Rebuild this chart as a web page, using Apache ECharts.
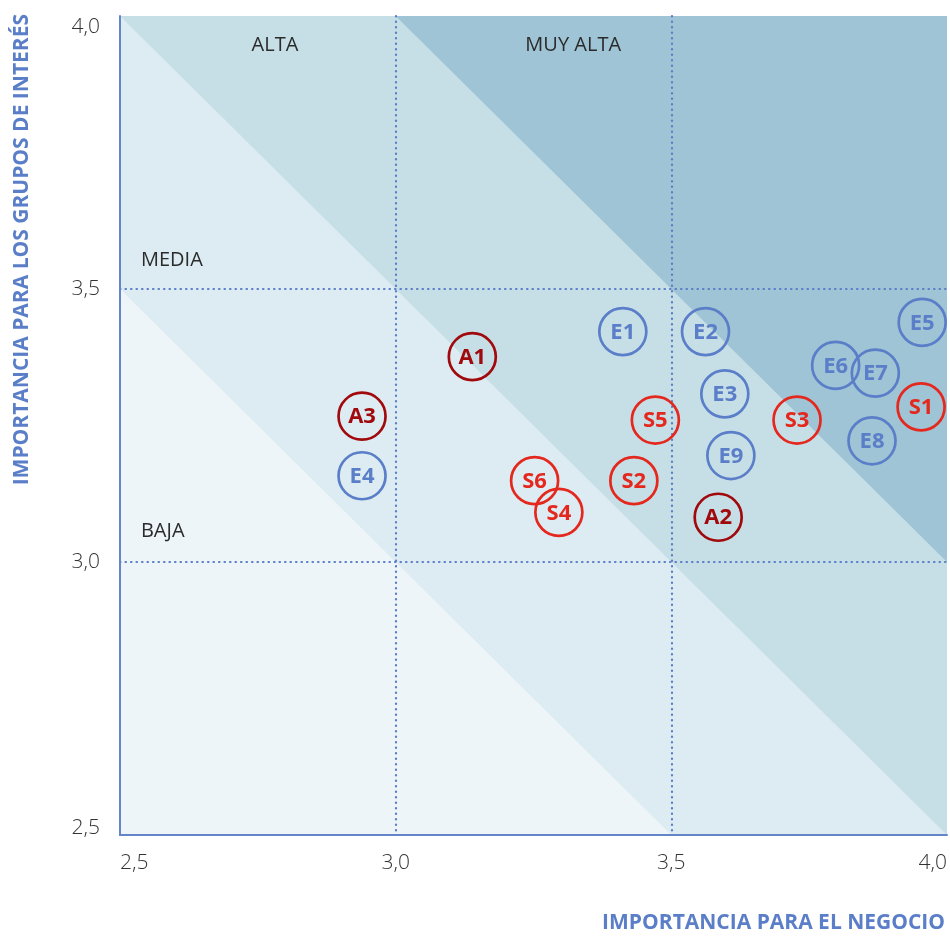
<!DOCTYPE html>
<html>
<head>
<meta charset="utf-8">
<script src="https://cdn.jsdelivr.net/npm/echarts@6/dist/echarts.min.js"></script>
<style>
  html, body { margin: 0; padding: 0; background: #ffffff; }
  #chart { width: 950px; height: 939px; }
</style>
</head>
<body>
<div id="chart"></div>
<script>
// Axis range and tick step (both axes share the same scale)
const axisMin = 2.5;
const axisMax = 4.0;
const axisStep = 0.5;

// Priority bands: thresholds on business + stakeholder importance
const bandThresholds = [6.0, 6.5, 7.0];
const bandColors = ['#ddecf2', '#c6dfe7', '#9ec4d5'];
const baseColor = '#edf5f8';

// Band captions, their anchor positions and horizontal alignment
const bandNames = ['ALTA', 'MUY ALTA', 'MEDIA', 'BAJA'];
const bandNameX = [2.781, 3.322, 2.538, 2.538];
const bandNameY = [3.947, 3.947, 3.553, 3.0555];
const bandNameAlign = ['center', 'center', 'left', 'left'];

// Group E
const eLabels = ['E1', 'E2', 'E3', 'E4', 'E5', 'E6', 'E7', 'E8', 'E9'];
const eBusiness = [3.412, 3.562, 3.597, 2.939, 3.955, 3.798, 3.870, 3.864, 3.608];
const eStakeholders = [3.422, 3.422, 3.308, 3.158, 3.439, 3.360, 3.346, 3.222, 3.195];

// Group S
const sLabels = ['S1', 'S2', 'S3', 'S4', 'S5', 'S6'];
const sBusiness = [3.953, 3.432, 3.728, 3.296, 3.471, 3.252];
const sStakeholders = [3.284, 3.149, 3.260, 3.091, 3.260, 3.149];

// Group A
const aLabels = ['A1', 'A2', 'A3'];
const aBusiness = [3.139, 3.585, 2.939];
const aStakeholders = [3.376, 3.082, 3.267];

const FONT = '"Open Sans", "Noto Sans", sans-serif';
const BLUE = '#5b7ec8';
const RED = '#e4281e';
const DARK_RED = '#a00a0c';
const AXIS_BLUE = '#6585c9';

function fmt(v) {
  return v.toFixed(1).replace('.', ',');
}

// Part of the plot square where business + stakeholders >= t
function clipSquare(t) {
  const sq = [[axisMin, axisMin], [axisMax, axisMin], [axisMax, axisMax], [axisMin, axisMax]];
  const out = [];
  for (let i = 0; i < sq.length; i++) {
    const p = sq[i], q = sq[(i + 1) % sq.length];
    const fp = p[0] + p[1] - t, fq = q[0] + q[1] - t;
    if (fp >= 0) out.push(p);
    if ((fp >= 0) !== (fq >= 0)) {
      const s = fp / (fp - fq);
      out.push([p[0] + s * (q[0] - p[0]), p[1] + s * (q[1] - p[1])]);
    }
  }
  return out;
}

function points(labels, xs, ys) {
  return labels.map((l, i) => [xs[i], ys[i], l]);
}

function pointSeries(name, data, color) {
  return {
    name: name,
    type: 'scatter',
    z: 5,
    data: data,
    symbol: 'circle',
    symbolSize: 47,
    itemStyle: { color: 'rgba(255,255,255,0)', borderColor: color, borderWidth: 2.7, opacity: 1 },
    label: {
      show: true,
      position: 'inside',
      formatter: p => p.value[2],
      color: color,
      fontFamily: FONT,
      fontWeight: 'bold',
      fontSize: 22,
      offset: [0, 1]
    },
    emphasis: { disabled: true }
  };
}

const bandData = [-Infinity].concat(bandThresholds).map((t, i) => [t, i]);
const allBandColors = [baseColor].concat(bandColors);

const dotted = { color: BLUE, width: 2.2, type: [0.5, 5], cap: 'round' };

const chart = echarts.init(document.getElementById('chart'), null, { renderer: 'canvas' });

chart.setOption({
  animation: false,
  grid: { left: 120, right: 2, top: 16, bottom: 104, containLabel: false },
  xAxis: {
    type: 'value',
    min: axisMin,
    max: axisMax,
    interval: axisStep,
    z: 3,
    axisLine: { show: true, onZero: false, lineStyle: { color: AXIS_BLUE, width: 2 } },
    axisTick: { show: false },
    axisLabel: {
      formatter: fmt,
      margin: 18,
      color: '#333333',
      fontFamily: FONT,
      fontWeight: 300,
      fontSize: 21,
      alignMinLabel: 'left',
      alignMaxLabel: 'right'
    },
    splitLine: { show: true, showMinLine: false, showMaxLine: false, lineStyle: dotted }
  },
  yAxis: {
    type: 'value',
    min: axisMin,
    max: axisMax,
    interval: axisStep,
    z: 3,
    axisLine: { show: true, onZero: false, lineStyle: { color: AXIS_BLUE, width: 2 } },
    axisTick: { show: false },
    axisLabel: {
      formatter: v => {
        const s = fmt(v);
        if (v === axisMax) return '{top|' + s + '}';
        if (v === axisMin) return '{bot|' + s + '}';
        return s;
      },
      margin: 20,
      color: '#333333',
      fontFamily: FONT,
      fontWeight: 300,
      fontSize: 21,
      rich: {
        top: { padding: [22, 0, 0, 0], color: '#333333', fontFamily: FONT, fontWeight: 300, fontSize: 21 },
        bot: { padding: [0, 0, 14, 0], color: '#333333', fontFamily: FONT, fontWeight: 300, fontSize: 21 }
      }
    },
    splitLine: { show: true, showMinLine: false, showMaxLine: false, lineStyle: dotted }
  },
  graphic: [
    {
      type: 'text',
      right: 5,
      top: 913,
      style: {
        text: 'IMPORTANCIA PARA EL NEGOCIO',
        fill: BLUE,
        font: 'bold 21px ' + FONT
      }
    },
    {
      type: 'text',
      left: 12,
      top: 14,
      rotation: Math.PI / 2,
      originX: 0,
      originY: 0,
      style: {
        text: 'IMPORTANCIA PARA LOS GRUPOS DE INTERÉS',
        fill: BLUE,
        font: 'bold 21px ' + FONT,
        align: 'right',
        verticalAlign: 'top'
      }
    }
  ],
  series: [
    {
      name: 'bands',
      type: 'custom',
      z: 1,
      silent: true,
      data: bandData,
      renderItem: (params, api) => {
        const t = api.value(0);
        const idx = api.value(1);
        const poly = clipSquare(t).map(p => api.coord(p));
        return {
          type: 'polygon',
          shape: { points: poly },
          style: { fill: allBandColors[idx] }
        };
      }
    },
    {
      name: 'bandNames',
      type: 'scatter',
      z: 4,
      silent: true,
      symbolSize: 0,
      itemStyle: { opacity: 1 },
      data: bandNames.map((n, i) => ({
        value: [bandNameX[i], bandNameY[i], n],
        label: { align: bandNameAlign[i] }
      })),
      label: {
        show: true,
        position: 'inside',
        formatter: p => p.value[2],
        color: '#2b2b2b',
        fontFamily: FONT,
        fontSize: 20
      },
      emphasis: { disabled: true }
    },
    pointSeries('E', points(eLabels, eBusiness, eStakeholders), BLUE),
    pointSeries('S', points(sLabels, sBusiness, sStakeholders), RED),
    pointSeries('A', points(aLabels, aBusiness, aStakeholders), DARK_RED)
  ]
});
</script>
</body>
</html>
